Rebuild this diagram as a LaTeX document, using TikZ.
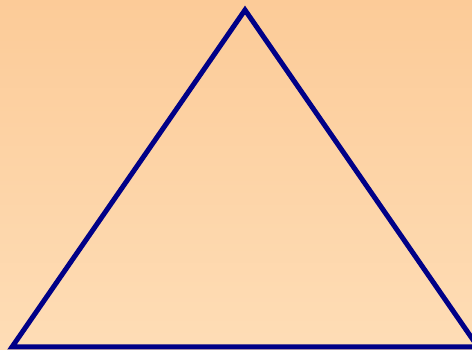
\documentclass[tikz,border=0pt]{standalone}
\usepackage{tikz}
\definecolor{peachtop}{RGB}{252, 203, 152}
\definecolor{peachbottom}{RGB}{254, 221, 182}
\definecolor{edgenavy}{RGB}{0, 0, 135}

\begin{document}
\begin{tikzpicture}[x=1pt, y=-1pt]
    \useasboundingbox (0,0) rectangle (472,350);
    \clip (0,0) rectangle (472,350);
    \shade[top color=peachtop, bottom color=peachbottom] (0,0) rectangle (472,350);
    
    \coordinate (apex) at (245,10);
    \coordinate (left) at (12,347);
    \coordinate (right) at (478,347);
    
    \draw[edgenavy, line width=5pt, line join=miter] (apex) -- (left) -- (right) -- cycle;
\end{tikzpicture}
\end{document}
